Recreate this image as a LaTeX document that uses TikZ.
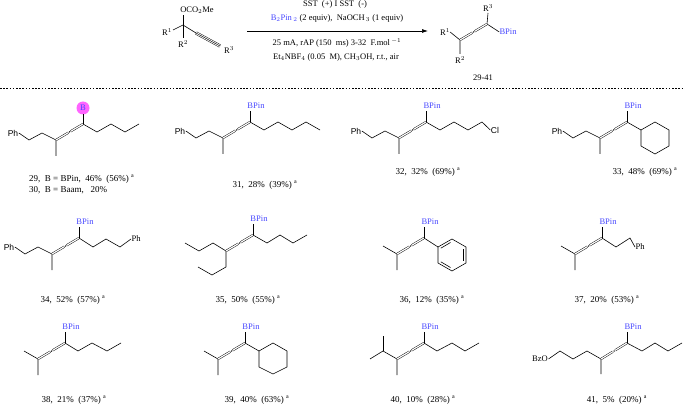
\documentclass[tikz,border=0pt]{standalone}
\usepackage{fontspec}
\setmainfont{Liberation Serif}
\newfontfamily\arialf{Liberation Sans}
\usetikzlibrary{arrows.meta}
\definecolor{bpblue}{RGB}{70,70,255}
\definecolor{bmag}{RGB}{255,100,255}
\tikzset{
  bd/.style={line width=0.6pt},
  dbl/.style={double,double distance=1.2pt,line width=0.45pt},
  lab/.style={font=\fontsize{9}{10}\selectfont,inner sep=0pt},
  bp/.style={text=bpblue,font=\fontsize{8.5}{9}\selectfont,inner sep=0pt},
  grp/.style={font=\arialf\fontsize{8.5}{9}\selectfont,inner sep=0.5pt},
  sgrp/.style={font=\fontsize{8.5}{9}\selectfont,inner sep=0.5pt},
  hd/.style={font=\fontsize{8.5}{9}\selectfont,inner sep=0pt}
}
\newcommand\myallene[2]{%
  \path (#1) -- (#2) coordinate[pos=0.5] (mid);
  \draw[dbl,shorten >=1.3pt] (#1)--(mid);
  \draw[dbl,shorten <=1.3pt] (mid)--(#2);
  \fill (mid) circle (0.75pt);}
% Ph-CH2CH2-C(Me)= left part, T at origin
\newcommand\phleft[1]{%
  \coordinate (T) at (0,0); \coordinate (L) at (-27,16);
  \node[grp] (#1) at (-70,9) {Ph};
  \draw[bd] (#1.east) -- (-54,16) -- (-41,9) -- (L) -- (-27,32);
  \myallene{L}{T}}
\newcommand\isoleft{%
  \coordinate (T) at (0,0); \coordinate (L) at (-27,16);
  \draw[bd] (-41,8) -- (L) -- (-27,32);
  \myallene{L}{T}}
\newcommand\bpin[1]{%
  \node[bp] (#1) at (6,-16) {BPin};
  \draw[bd] (T) -- (0,-11);}
\begin{document}
\begin{tikzpicture}[x=1pt,y=-1pt]
\useasboundingbox (0,0) rectangle (685,406);
% ---------- header ----------
\coordinate (rc) at (183,25);
\node[hd] (oco) at (197,10) {OCO$_{2}$Me};
\node[hd] (r1a) at (167,32) {R$^{1}$};
\node[hd] (r2a) at (183,44) {R$^{2}$};
\node[hd] (r3a) at (229,50) {R$^{3}$};
\draw[bd] (rc) -- (183,15);
\draw[bd] (rc) -- (173,30);
\draw[bd] (rc) -- (183,38);
\draw[bd] (rc) -- (196,33);
\draw[line width=0.45pt,double,double distance=2.3pt] (196,33) -- (220,46);
\draw[line width=0.45pt] (196,33) -- (220,46);
\draw[line width=0.7pt,-{Latex[length=6pt,width=4pt]}] (247,31) -- (428,31);
\node[hd] (c1) at (335,4) {SST\ \ (+) I SST\ \ (-)};
\node[hd] (c2) at (337,18) {\textcolor{bpblue}{B$_2$Pin$_{\,2}$} (2 equiv),\ \ NaOCH$_{\,3}$ (1 equiv)};
\node[hd] (c3) at (337,43) {25\ mA, rAP (150\ \ ms)\ 3-32\ \ F.mol$^{\,-1}$};
\node[hd] (c4) at (336,57) {Et$_4$NBF$_4$ (0.05\ \ M), CH$_3$OH, r.t., air};
\coordinate (pL) at (460,40); \coordinate (pT) at (487,24);
\node[hd] (r1p) at (445,32) {R$^{1}$};
\node[hd] (r2p) at (460,60) {R$^{2}$};
\node[hd] (r3p) at (488,8) {R$^{3}$};
\node[bp] (bpp) at (508,32) {BPin};
\draw[bd] (r1p.east) -- (pL) -- (460,54);
\draw[bd] (pT) -- (488,13);
\draw[bd] (pT) -- (bpp.west);
\myallene{pL}{pT}
\node[hd] (num) at (483,78) {29-41};
\draw[line width=0.6pt,dash pattern=on 1.6pt off 1.6pt] (0,88) -- (685,88);
% ---------- 29 ----------
\begin{scope}[shift={(83,124)}]
\phleft{ph29}
\draw[bd] (T) -- (14,8) -- (28,0) -- (42,8) -- (56,0);
\fill[bmag] (0,-16) circle (6.5);
\node[bp] (b29) at (0,-16) {B};
\draw[bd] (T) -- (0,-9.5);
\end{scope}
\node[lab,anchor=west] (l29) at (29,179) {29,\ \ B = BPin,\ \ 46\%\ \ (56\%)\ \textsuperscript{a}};
\node[lab,anchor=west] (l30) at (29,190) {30,\ \ B = Baam,\ \ \ 20\%};
% ---------- 31 ----------
\begin{scope}[shift={(250,122)}]
\phleft{ph31}
\draw[bd] (T) -- (14,8) -- (28,0) -- (42,8) -- (56,0) -- (70,8);
\bpin{b31}
\end{scope}
\node[lab] (l31) at (265,185) {31,\ \ 28\%\ \ (39\%)\ \textsuperscript{a}};
% ---------- 32 ----------
\begin{scope}[shift={(426,122)}]
\phleft{ph32}
\node[grp] (cl32) at (69,8) {Cl};
\draw[bd] (T) -- (14,8) -- (28,0) -- (42,8) -- (56,0) -- (cl32.west);
\bpin{b32}
\end{scope}
\node[lab] (l32) at (428,172) {32,\ \ 32\%\ \ (69\%)\ \textsuperscript{a}};
% ---------- 33 ----------
\begin{scope}[shift={(627,122)}]
\phleft{ph33}
\draw[bd] (T) -- (14,8);
\draw[bd] (14,8) -- (28,0) -- (42,8) -- (42,24) -- (28,32) -- (14,24) -- cycle;
\bpin{b33}
\end{scope}
\node[lab] (l33) at (645,172) {33,\ \ 48\%\ \ (69\%)\ \textsuperscript{a}};
% ---------- 34 ----------
\begin{scope}[shift={(79,238)}]
\phleft{ph34}
\node[sgrp,anchor=west] (ph34b) at (52,1) {Ph};
\draw[bd] (T) -- (14,9) -- (27,1) -- (41,9) -- (ph34b.west);
\bpin{b34}
\end{scope}
\node[lab] (l34) at (73,300) {34,\ \ 52\%\ \ (57\%)\ \textsuperscript{a}};
% ---------- 35 ----------
\begin{scope}[shift={(253,235)}]
\coordinate (T) at (0,0); \coordinate (L) at (-27,16);
\draw[bd] (-68,8) -- (-54,16) -- (-40,8) -- (L) -- (-27,32) -- (-41,40) -- (-55,32);
\myallene{L}{T}
\draw[bd] (T) -- (14,8) -- (27,0) -- (40,8) -- (54,0);
\bpin{b35}
\end{scope}
\node[lab] (l35) at (248,300) {35,\ \ 50\%\ \ (55\%)\ \textsuperscript{a}};
% ---------- 36 ----------
\begin{scope}[shift={(424,238)}]
\isoleft
\draw[bd] (T) -- (14,9);
\draw[bd] (14,9) -- (28,1) -- (42,9) -- (42,25) -- (28,33) -- (14,25) -- cycle;
\draw[bd] (39,11) -- (39,23);
\draw[bd] (26.5,29.5) -- (16.8,23.8);
\draw[bd] (16.8,10.2) -- (26.5,4.5);
\bpin{b36}
\end{scope}
\node[lab] (l36) at (432,300) {36,\ \ 12\%\ \ (35\%)\ \textsuperscript{a}};
% ---------- 37 ----------
\begin{scope}[shift={(602,238)}]
\isoleft
\node[sgrp,anchor=west] (ph37) at (33,9) {Ph};
\draw[bd] (T) -- (14,9) -- (28,0) -- (ph37.west);
\bpin{b37}
\end{scope}
\node[lab] (l37) at (607,300) {37,\ \ 20\%\ \ (53\%)\ \textsuperscript{a}};
% ---------- 38 ----------
\begin{scope}[shift={(65,343)}]
\isoleft
\draw[bd] (T) -- (13,8) -- (27,0) -- (42,8) -- (56,0);
\bpin{b38}
\end{scope}
\node[lab] (l38) at (74,400) {38,\ \ 21\%\ \ (37\%)\ \textsuperscript{a}};
% ---------- 39 ----------
\begin{scope}[shift={(245,343)}]
\isoleft
\draw[bd] (T) -- (14,8);
\draw[bd] (14,8) -- (28,0) -- (42,8) -- (42,24) -- (28,31) -- (14,24) -- cycle;
\bpin{b39}
\end{scope}
\node[lab] (l39) at (257,400) {39,\ \ 40\%\ \ (63\%)\ \textsuperscript{a}};
% ---------- 40 ----------
\begin{scope}[shift={(424,343)}]
\coordinate (T) at (0,0); \coordinate (L) at (-27,16);
\draw[bd] (-54,16) -- (-41,8) -- (L) -- (-27,32);
\draw[bd] (-41,8) -- (-41,-7);
\myallene{L}{T}
\draw[bd] (T) -- (13,8) -- (28,0) -- (41,8) -- (55,0);
\bpin{b40}
\end{scope}
\node[lab] (l40) at (423,400) {40,\ \ 10\%\ \ (28\%)\ \textsuperscript{a}};
% ---------- 41 ----------
\begin{scope}[shift={(627,343)}]
\coordinate (T) at (0,0); \coordinate (L) at (-26,16);
\node[sgrp] (bzo) at (-87,16) {BzO};
\draw[bd] (bzo.east) -- (-67,8) -- (-54,16) -- (-40,8) -- (L) -- (-26,31);
\myallene{L}{T}
\draw[bd] (T) -- (15,8) -- (28,0) -- (41,8) -- (55,0);
\bpin{b41}
\end{scope}
\node[lab] (l41) at (617,400) {41,\ \ 5\%\ \ (20\%)\ \textsuperscript{a}};
\end{tikzpicture}
\end{document}
